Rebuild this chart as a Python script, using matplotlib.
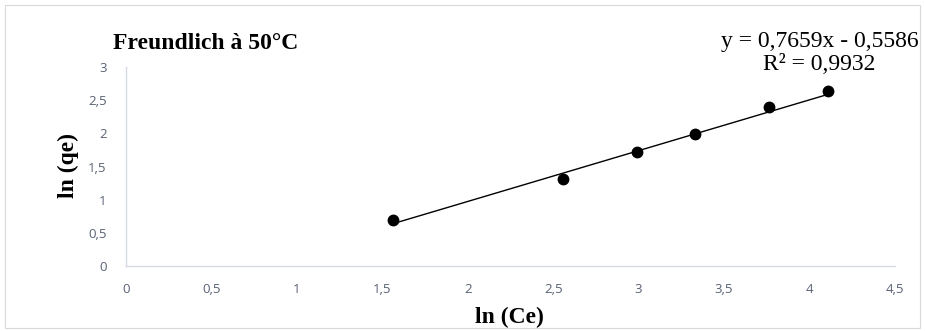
import matplotlib
matplotlib.use("Agg")
import matplotlib.pyplot as plt
import numpy as np

# Data
ln_ce = [1.56, 2.56, 2.99, 3.33, 3.76, 4.11]
ln_qe = [0.70, 1.31, 1.72, 1.99, 2.39, 2.64]
slope = 0.7659
intercept = -0.5586
r2 = 0.9932
x_ticks = [0, 0.5, 1, 1.5, 2, 2.5, 3, 3.5, 4, 4.5]
y_ticks = [0, 0.5, 1, 1.5, 2, 2.5, 3]

def fr(v):
    s = f"{v:g}"
    return s.replace(".", ",")

W, H = 925, 331
fig = plt.figure(figsize=(W / 100, H / 100), dpi=100)
fig.patch.set_facecolor("white")

# outer chart border
border = plt.Rectangle((5 / W, 3 / H), 915 / W, 323 / H, transform=fig.transFigure,
                       fill=False, edgecolor="#D9D9D9", linewidth=0.8)
fig.add_artist(border)

ax = fig.add_axes([126 / W, (H - 266) / H, (895 - 126) / W, (266 - 67) / H])
ax.set_xlim(0, 4.5)
ax.set_ylim(0, 3)

xs = np.array([min(ln_ce), max(ln_ce)])
ax.plot(xs, slope * xs + intercept, color="black", linewidth=1.0, zorder=2)
ax.plot(ln_ce, ln_qe, linestyle="none", marker="o", markersize=7.5,
        color="black", zorder=3, clip_on=False)

ax.set_xticks(x_ticks)
ax.set_yticks(y_ticks)
ax.set_xticklabels([fr(v) for v in x_ticks])
ax.set_yticklabels([fr(v) for v in y_ticks])
tick_color = "#596273"
ax.tick_params(axis="both", length=0, labelsize=9.5, colors=tick_color, labelfontfamily="Open Sans")
ax.tick_params(axis="x", pad=12)
ax.tick_params(axis="y", pad=14)
for s in ["top", "right"]:
    ax.spines[s].set_visible(False)
for s in ["left", "bottom"]:
    ax.spines[s].set_color("#D5DAE3")
    ax.spines[s].set_linewidth(1.0)

serif = "Liberation Serif"
fs = 17
fig.text(113 / W, 1 - 49 / H, "Freundlich à 50°C", fontfamily=serif, fontweight="bold",
         fontsize=fs, ha="left", va="baseline")
fig.text(820 / W, 1 - 47 / H, f"y = {fr(slope)}x - {fr(-intercept)}", fontfamily=serif,
         fontsize=fs, ha="center", va="baseline")
fig.text(819 / W, 1 - 70 / H, f"R² = {fr(r2)}", fontfamily=serif,
         fontsize=fs, ha="center", va="baseline")
fig.text(509 / W, 1 - 323 / H, "ln (Ce)", fontfamily=serif, fontweight="bold",
         fontsize=fs, ha="center", va="baseline")
fig.text(68 / W, 1 - 166 / H, "ln (qe)", fontfamily=serif, fontweight="bold",
         fontsize=fs, ha="center", va="center", rotation=90)

fig.savefig("out.png", dpi=100, facecolor="white")
